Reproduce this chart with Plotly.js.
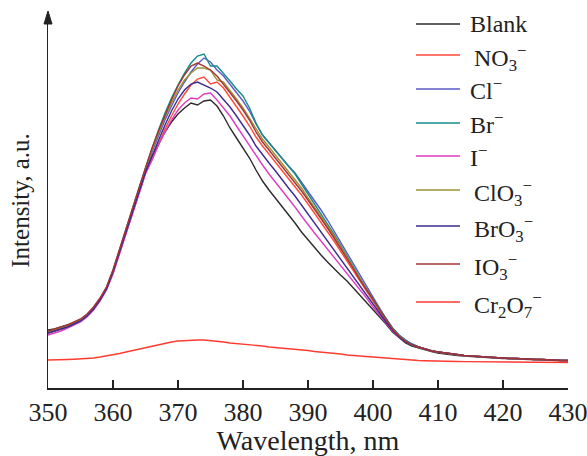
<!DOCTYPE html>
<html>
<head>
<meta charset="utf-8">
<script src="https://cdn.plot.ly/plotly-3.0.1.min.js"></script>
<style>html,body{margin:0;padding:0;background:#fff;}#chart{width:587px;height:456px;}</style>
</head>
<body>
<div id="chart"></div>
<script>
// Wavelength, nm (350..430, 1 nm step)
var wavelength = [];
for (var w = 350; w <= 430; w++) wavelength.push(w);

var seriesNames = ["Blank", "NO<sub>3</sub><sup>−</sup>", "Cl<sup>−</sup>", "Br<sup>−</sup>", "I<sup>−</sup>",
  "ClO<sub>3</sub><sup>−</sup>", "BrO<sub>3</sub><sup>−</sup>", "IO<sub>3</sub><sup>−</sup>", "Cr<sub>2</sub>O<sub>7</sub><sup>−</sup>"];
var seriesColors = ["#2b2b2b", "#ff4a3a", "#5a5ac4", "#168a8a", "#e03cc4", "#9c9236", "#3a2c8c", "#a33434", "#ff3b30"];

var blank = [58,59,61,63,65,68,73,80,89,100,116,136,157,177,197,216,231,244,256,266,274,280,285,283,287,288,282,272,260,250,240,230,218,207,198,190,182,174,165,156,148,140,133,126,119,113,107,100,93,86,79,72,64,56,50,45,42,40,38,36.5,35,34,33,32.5,32,31.5,31,30.5,30,30,29.5,29.5,29,29,28.5,28.5,28,28,27.5,27.5,27];
var no3 = [55,57,59,61,64,67,72,79,88,99,115,135,156,176,196,215,228,244,259,272,284,294,303,309,311,304,306,300,291,282,272,262,251,242,234,226,218,210,202,193,184,175,166,157,147,137,127,116,106,96,86,76,67,59,52,47,43,41,39,37,36,35,34,33,32.5,32,31.5,31,30.5,30,30,29.5,29.5,29,29,28.5,28.5,28,28,27.5,27.5];
var cl = [55,57,59,61,64,67,72,79,88,100,117,137,158,178,198,218,236,252,268,282,295,306,316,324,330,326,318,312,304,296,287,277,264,253,245,237,229,222,215,206,197,188,178,168,157,146,135,123,112,101,90,79,69,60,53,48,44,41,39,37.5,36,35,34,33,32.5,32,31.5,31,30.5,30,30,29.5,29.5,29,29,28.5,28.5,28,28,27.5,27.5];
var br = [56,58,60,62,65,68,73,80,89,101,118,139,160,180,200,220,240,258,275,290,303,315,325,332,334,322,322,315,307,299,292,280,265,253,245,237,230,222,214,204,194,185,175,165,154,143,132,120,110,99,89,79,69,60,53,48,44,41,39,37,36,35,34,33,32.5,32,31.5,31,30.5,30,30,29.5,29.5,29,29,28.5,28.5,28,28,27.5,27.5];
var iod = [53,55,57,60,63,66,71,78,87,98,114,134,155,175,195,214,228,243,256,268,278,285,290,289,294,295,288,280,272,262,252,243,232,223,214,206,197,189,181,172,163,155,147,139,131,123,115,106,98,90,81,73,65,57,51,46,43,41,39,37,36,35,34,33,32.5,32,31.5,31,30.5,30,30,29.5,29.5,29,29,28.5,28.5,28,28,27.5,27.5];
var clo3 = [56,58,60,62,65,68,73,80,89,100,117,137,158,178,198,218,238,255,271,285,298,308,315,320,320,318,308,306,298,289,280,270,259,249,241,233,225,217,209,200,190,181,172,162,152,142,131,120,109,99,88,78,68,59,52,47,43,41,39,37,36,35,34,33,32.5,32,31.5,31,30.5,30,30,29.5,29.5,29,29,28.5,28.5,28,28,27.5,27.5];
var bro3 = [55,57,59,61,64,67,72,79,88,99,116,136,157,177,197,216,232,248,263,277,289,298,304,306,303,300,296,289,281,272,263,253,242,233,225,217,208,200,192,183,174,165,156,147,138,129,120,110,101,92,83,74,66,58,51,46,43,41,39,37,36,35,34,33,32.5,32,31.5,31,30.5,30,30,29.5,29.5,29,29,28.5,28.5,28,28,27.5,27.5];
var io3 = [57,59,61,63,66,69,74,81,90,101,118,139,160,180,200,220,240,257,273,288,302,313,322,325,322,318,312,304,296,287,278,268,256,246,238,230,222,214,206,197,188,179,170,160,150,140,130,119,108,98,88,78,68,59,52,47,43,41,39,37,36,35,34,33,32.5,32,31.5,31,30.5,30,30,29.5,29.5,29,29,28.5,28.5,28,28,27.5,27.5];
var cr2o7 = [28,28,28.2,28.5,28.8,29,29.5,30,31,32,33,34.5,36,37.5,39,40.5,42,43.5,45,46,47,47.5,48,48,48,47.5,47,46,45,44.5,44,43,42.5,42,41,40.5,40,39.5,39,38,37.5,36.5,36,35,34.5,34,33,32.5,32,31.5,31,30,29.5,29,28.5,28,27.8,27.5,27.3,27,26.8,26.7,26.6,26.5,26.4,26.3,26.2,26.1,26,26,25.9,25.9,25.8,25.8,25.7,25.7,25.6,25.6,25.5,25.5,25.5];

var seriesValues = [blank, no3, cl, br, iod, clo3, bro3, io3, cr2o7];

var traces = seriesValues.map(function (vals, i) {
  return {
    x: wavelength, y: vals, type: "scatter", mode: "lines",
    name: seriesNames[i], showlegend: false,
    line: {color: seriesColors[i], width: 1.4}
  };
});

// ---- layout geometry (pixels) ----
var W = 587, H = 456, ML = 48, MR = 19, MT = 13, MB = 68;
var PW = W - ML - MR, PH = H - MT - MB;
function px2x(p) { return (p - ML) / PW; }
function px2y(p) { return (H - MB - p) / PH; }

// Hand-built legend (line sample + label) to match the reference spacing
var legendRows = [24, 55, 89, 123, 156, 190, 226, 264, 302];
var legendTextX = [468, 472, 468, 468, 468, 472, 472, 472, 472];
var serif = "Liberation Serif, Times New Roman, serif";
var shapes = [{
  type: "path", xref: "paper", yref: "paper",
  path: "M " + px2x(44) + " " + px2y(24) + " L " + px2x(48) + " " + px2y(11) + " L " + px2x(52) + " " + px2y(24) + " Z",
  fillcolor: "#222", line: {color: "#222", width: 1}
}];
var annotations = [];
seriesNames.forEach(function (nm, i) {
  shapes.push({type: "line", xref: "paper", yref: "paper",
    x0: px2x(416), x1: px2x(460), y0: px2y(legendRows[i]), y1: px2y(legendRows[i]),
    line: {color: seriesColors[i], width: 1.6}});
  var hasSub = nm.indexOf("<sub>") >= 0;
  annotations.push({xref: "paper", yref: "paper", x: px2x(legendTextX[i]), y: px2y(legendRows[i]),
    xanchor: "left", yanchor: "middle", showarrow: false, text: nm,
    yshift: hasSub ? -3 : 0,
    font: {family: serif, size: 24, color: "#222"}});
});

var layout = {
  width: W, height: H,
  margin: {l: ML, r: MR, t: MT, b: MB},
  paper_bgcolor: "#fff", plot_bgcolor: "#fff",
  font: {family: serif, size: 26, color: "#222"},
  showlegend: false,
  xaxis: {
    range: [350, 430], tick0: 350, dtick: 10, ticks: "inside", ticklen: 8, tickwidth: 1.2, tickcolor: "#222",
    showline: true, linecolor: "#222", linewidth: 1.5, showgrid: false, zeroline: false,
    ticklabeloverflow: "allow", automargin: false,
    tickfont: {family: serif, size: 26, color: "#222"},
    title: {text: "Wavelength, nm", font: {family: serif, size: 28, color: "#222"}, standoff: 0}
  },
  yaxis: {
    range: [0, 375], showticklabels: false, ticks: "", showline: true, linecolor: "#222", linewidth: 1.5,
    showgrid: false, zeroline: false,
    title: {text: "Intensity, a.u.", font: {family: serif, size: 25, color: "#222"}, standoff: 10}
  },
  shapes: shapes,
  annotations: annotations
};

Plotly.newPlot("chart", traces, layout, {displayModeBar: false, staticPlot: true});
</script>
</body>
</html>
